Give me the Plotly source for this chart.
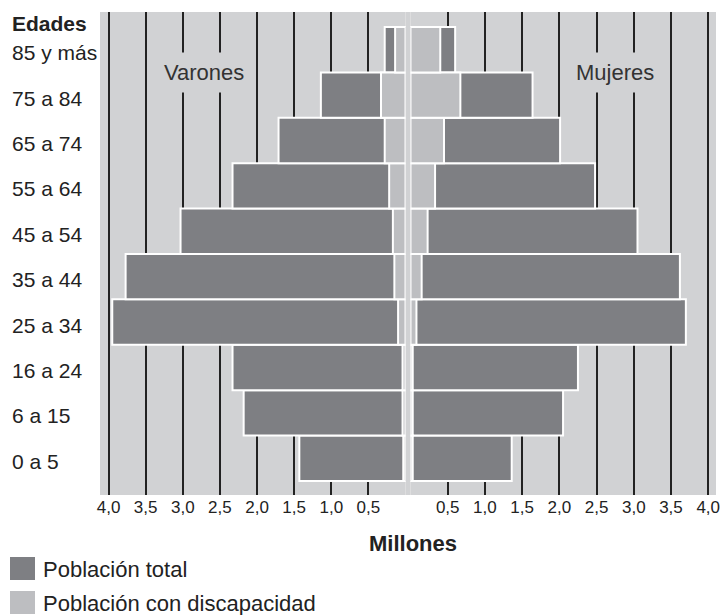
import plotly.graph_objects as go

# ---------------- data (millions) ----------------
ages = ["0 a 5", "6 a 15", "16 a 24", "25 a 34", "35 a 44",
        "45 a 54", "55 a 64", "65 a 74", "75 a 84", "85 y más"]
men_total = [1.43, 2.18, 2.33, 3.95, 3.77, 3.03, 2.33, 1.71, 1.14, 0.28]
men_disab = [0.03, 0.04, 0.04, 0.10, 0.15, 0.17, 0.22, 0.28, 0.33, 0.14]
women_total = [1.36, 2.05, 2.25, 3.70, 3.62, 3.05, 2.48, 2.01, 1.64, 0.60]
women_disab = [0.03, 0.03, 0.03, 0.08, 0.15, 0.23, 0.33, 0.45, 0.67, 0.40]

tick_vals = [0.5, 1.0, 1.5, 2.0, 2.5, 3.0, 3.5, 4.0]
tick_text = ["0,5", "1,0", "1,5", "2,0", "2,5", "3,0", "3,5", "4,0"]

legend_labels = ["Población total", "Población con discapacidad"]

# ---------------- style ----------------
DARK = "#7e7f83"
LIGHT = "#bdbec1"
BG = "#d1d2d4"
INK = "#222222"
FONT = "Liberation Sans, Arial, sans-serif"

W, H = 724, 615
ML, MR, MT, MB = 100, 8, 12, 120
PW, PH = W - ML - MR, H - MT - MB


def px_x(p):
    return (p - ML) / PW


def px_y(p):
    return (H - MB - p) / PH


fig = go.Figure()
line = dict(color="white", width=2)
fig.add_trace(go.Bar(y=ages, x=men_total, orientation="h", xaxis="x", yaxis="y",
                     marker=dict(color=DARK, line=line), width=1.0, showlegend=False))
fig.add_trace(go.Bar(y=ages, x=men_disab, orientation="h", xaxis="x", yaxis="y",
                     marker=dict(color=LIGHT, line=line), width=1.0, showlegend=False))
fig.add_trace(go.Bar(y=ages, x=women_total, orientation="h", xaxis="x2", yaxis="y",
                     marker=dict(color=DARK, line=line), width=1.0, showlegend=False))
fig.add_trace(go.Bar(y=ages, x=women_disab, orientation="h", xaxis="x2", yaxis="y",
                     marker=dict(color=LIGHT, line=line), width=1.0, showlegend=False))

left_dom = [0, px_x(405.5)]
right_dom = [px_x(410.5), 1]

xcommon = dict(tickvals=tick_vals, ticktext=tick_text, showgrid=True, gridcolor=INK,
               gridwidth=2, zeroline=False, showline=False, ticks="", automargin=False,
               tickfont=dict(family=FONT, size=17, color=INK), fixedrange=True)

fig.update_layout(
    width=W, height=H,
    margin=dict(l=ML, r=MR, t=MT, b=MB, autoexpand=False),
    paper_bgcolor="white", plot_bgcolor=BG,
    barmode="overlay", bargap=0,
    xaxis=dict(domain=left_dom, range=[4.115, 0], anchor="y", **xcommon),
    xaxis2=dict(domain=right_dom, range=[0, 4.105], anchor="y", **xcommon),
    yaxis=dict(type="category", categoryorder="array", categoryarray=ages,
               range=[-0.81, 9.83], showgrid=False, zeroline=False,
               showticklabels=False, anchor="x", domain=[0, 1], fixedrange=True),
    showlegend=False,
)

shapes = [
    # gap between the two halves shows background
    dict(type="rect", xref="paper", yref="paper", x0=left_dom[1], x1=right_dom[0],
         y0=0, y1=1, fillcolor=BG, line=dict(width=0), layer="below"),
    # legend swatches
    dict(type="rect", xref="paper", yref="paper", x0=px_x(10), x1=px_x(35),
         y0=px_y(580), y1=px_y(557), fillcolor=DARK, line=dict(width=0)),
    dict(type="rect", xref="paper", yref="paper", x0=px_x(10), x1=px_x(35),
         y0=px_y(614), y1=px_y(591), fillcolor=LIGHT, line=dict(width=0)),
]
fig.update_layout(shapes=shapes)

ann = []
for a in ages:
    ann.append(dict(text=a, xref="paper", yref="y", x=px_x(10), y=a, xanchor="left",
                    yanchor="middle", yshift=-3, showarrow=False,
                    font=dict(family=FONT, size=21, color=INK)))
ann.append(dict(text="<b>Edades</b>", xref="paper", yref="paper", x=px_x(10), y=px_y(23),
                xanchor="left", yanchor="middle", showarrow=False,
                font=dict(family=FONT, size=21, color=INK)))
ann.append(dict(text="Varones", xref="x", yref="y", x=2.71, y=8.5, xanchor="center",
                yanchor="middle", showarrow=False, bgcolor=BG, borderpad=7,
                font=dict(family=FONT, size=22, color="#333")))
ann.append(dict(text="Mujeres", xref="x2", yref="y", x=2.75, y=8.5, xanchor="center",
                yanchor="middle", showarrow=False, bgcolor=BG, borderpad=7,
                font=dict(family=FONT, size=22, color="#333")))
ann.append(dict(text="<b>Millones</b>", xref="paper", yref="paper", x=px_x(413), y=px_y(543),
                xanchor="center", yanchor="middle", showarrow=False,
                font=dict(family=FONT, size=22, color=INK)))
ann.append(dict(text=legend_labels[0], xref="paper", yref="paper", x=px_x(41), y=px_y(569),
                xanchor="left", yanchor="middle", showarrow=False,
                font=dict(family=FONT, size=22, color=INK)))
ann.append(dict(text=legend_labels[1], xref="paper", yref="paper", x=px_x(41), y=px_y(603),
                xanchor="left", yanchor="middle", showarrow=False,
                font=dict(family=FONT, size=22, color=INK)))
fig.update_layout(annotations=ann)

fig.write_html("out.html", config={"displayModeBar": False, "staticPlot": True},
               post_script="document.body.style.margin='0';document.body.style.padding='0';")
